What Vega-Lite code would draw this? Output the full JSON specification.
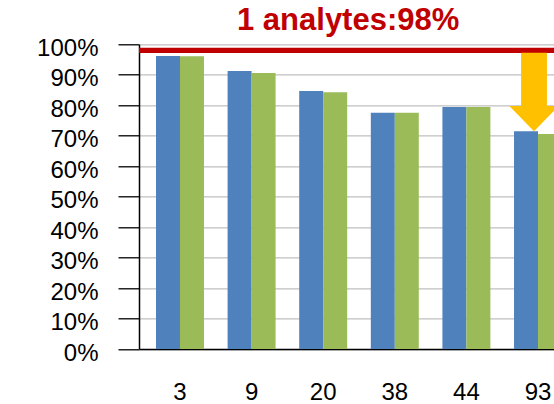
{
  "$schema": "https://vega.github.io/schema/vega-lite/v6.json",
  "width": 415,
  "height": 304.7,
  "autosize": {"type": "none"},
  "padding": {"left": 139, "top": 44.3, "right": 0, "bottom": 55},
  "background": "white",
  "title": {
    "text": "1 analytes:98%",
    "anchor": "start",
    "frame": "group",
    "dx": 98,
    "offset": -25,
    "baseline": "alphabetic",
    "font": "Liberation Sans",
    "fontSize": 31,
    "fontWeight": "bold",
    "color": "#C00000"
  },
  "config": {
    "view": {"stroke": null},
    "axis": {
      "labelFont": "Liberation Sans",
      "labelFontSize": 24,
      "labelColor": "black",
      "domainColor": "black",
      "domainWidth": 1.5,
      "title": null
    }
  },
  "datasets": {
    "recovery": [
      {"cat": 3, "series": "series1", "value": 96.2},
      {"cat": 3, "series": "series2", "value": 96.1},
      {"cat": 9, "series": "series1", "value": 91.2},
      {"cat": 9, "series": "series2", "value": 90.6},
      {"cat": 20, "series": "series1", "value": 84.7},
      {"cat": 20, "series": "series2", "value": 84.3},
      {"cat": 38, "series": "series1", "value": 77.5},
      {"cat": 38, "series": "series2", "value": 77.5},
      {"cat": 44, "series": "series1", "value": 79.4},
      {"cat": 44, "series": "series2", "value": 79.4},
      {"cat": 93, "series": "series1", "value": 71.5},
      {"cat": 93, "series": "series2", "value": 70.6}
    ],
    "target": [{"value": 98}],
    "drop": [{"cat": 93, "value": 71.5}]
  },
  "encoding": {
    "y": {
      "field": "value",
      "type": "quantitative",
      "scale": {"domain": [0, 100], "nice": false},
      "axis": {
        "values": [0, 10, 20, 30, 40, 50, 60, 70, 80, 90, 100],
        "labelExpr": "datum.value + '%'",
        "labelOverlap": false,
        "labelFlush": false,
        "grid": true,
        "gridColor": "#BFBFBF",
        "gridWidth": 1.3,
        "tickSize": 21,
        "tickColor": "black",
        "tickWidth": 1.3,
        "labelPadding": 20,
        "labelOffset": 4
      }
    }
  },
  "layer": [
    {
      "data": {"name": "recovery"},
      "mark": {"type": "bar"},
      "encoding": {
        "x": {
          "field": "cat",
          "type": "ordinal",
          "scale": {"range": [0, 440], "paddingInner": 0.33, "paddingOuter": 0.2374},
          "axis": {"ticks": false, "labelPadding": 31, "labelAngle": 0, "grid": false}
        },
        "xOffset": {"field": "series", "type": "nominal"},
        "color": {
          "field": "series",
          "type": "nominal",
          "scale": {"range": ["#4F81BD", "#9BBB59"]},
          "legend": null
        }
      }
    },
    {
      "data": {"name": "target"},
      "mark": {"type": "rule", "color": "#C00000", "strokeWidth": 5.3},
      "encoding": {}
    },
    {
      "data": {"name": "drop"},
      "mark": {
        "type": "point",
        "shape": "M0,0 L-0.63,-0.64 L-0.33,-0.64 L-0.33,-2 L0.33,-2 L0.33,-0.64 L0.63,-0.64 Z",
        "size": 6131,
        "filled": true,
        "color": "#FFC000",
        "opacity": 1,
        "strokeWidth": 0,
        "xOffset": -4
      },
      "encoding": {
        "x": {"field": "cat", "type": "ordinal"}
      }
    }
  ]
}
